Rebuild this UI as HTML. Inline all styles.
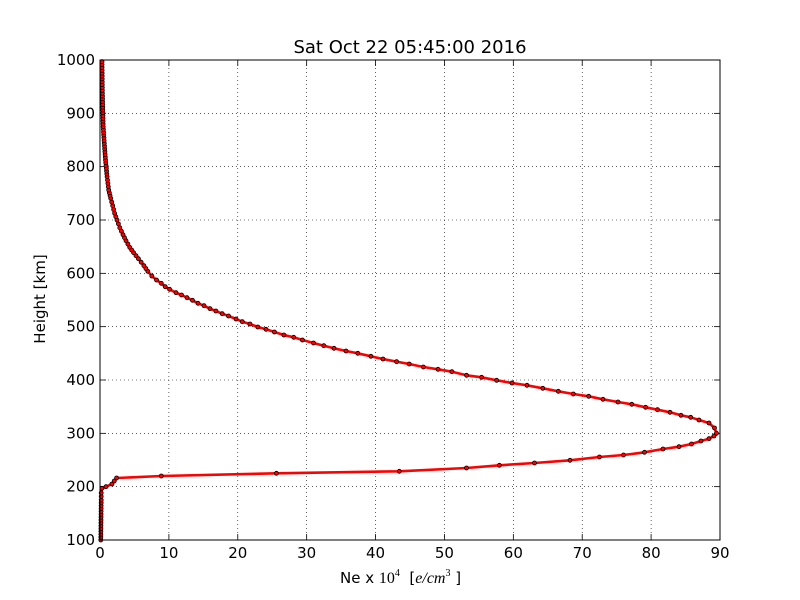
<!DOCTYPE html>
<html><head><meta charset="utf-8"><style>
html,body{margin:0;padding:0;background:#fff;}
svg{display:block;}
text{font-family:"DejaVu Sans","Liberation Sans",sans-serif;fill:#000;}
</style></head><body>
<svg id="s" width="800" height="600" xmlns="http://www.w3.org/2000/svg">
<rect width="800" height="600" fill="#fff"/>
<g id="grid" stroke="#000" stroke-width="0.6" stroke-dasharray="1,3"></g>
<g id="ticks" stroke="#000" stroke-width="0.8"></g>
<g id="labels" font-size="15"></g>
<polyline id="line" fill="none" stroke="#ff0000" stroke-width="2.6" stroke-linejoin="round"/>
<g id="dots" fill="#ff0000" stroke="#000" stroke-width="0.8"></g>
<rect x="100" y="60" width="620" height="480" fill="none" stroke="#000" stroke-width="1"/>
<text x="410" y="53" font-size="18" text-anchor="middle">Sat Oct 22 05:45:00 2016</text>
<text x="45" y="299" font-size="15" text-anchor="middle" transform="rotate(-90 45 299)">Height [km]</text>
<text x="340" y="583" font-size="15">Ne x <tspan font-family="Liberation Serif,serif" font-size="16">10</tspan><tspan font-family="Liberation Serif,serif" font-size="10" dy="-7">4</tspan><tspan dy="7" xml:space="preserve">  [</tspan><tspan font-family="Liberation Serif,serif" font-style="italic" font-size="16">e/cm</tspan><tspan font-family="Liberation Serif,serif" font-size="10" dy="-7">3</tspan><tspan dy="7" xml:space="preserve"> ]</tspan></text>
</svg>
<script>
var ns="http://www.w3.org/2000/svg";
function el(p,t,a,txt){var e=document.createElementNS(ns,t);for(var k in a)e.setAttribute(k,a[k]);if(txt!=null)e.textContent=txt;document.getElementById(p).appendChild(e);}
for(var i=0;i<=9;i++){var x=100+i*620/9;
 if(i>0&&i<9)el("grid","line",{x1:x,y1:60,x2:x,y2:540});
 el("ticks","line",{x1:x,y1:540,x2:x,y2:534});el("ticks","line",{x1:x,y1:60,x2:x,y2:66});
 el("labels","text",{x:x,y:558,"text-anchor":"middle"},String(i*10));}
for(var j=0;j<=9;j++){var y=540-j*480/9;
 if(j>0&&j<9)el("grid","line",{x1:100,y1:y,x2:720,y2:y});
 el("ticks","line",{x1:100,y1:y,x2:106,y2:y});el("ticks","line",{x1:720,y1:y,x2:714,y2:y});
 el("labels","text",{x:95,y:y+5,"text-anchor":"end"},String(100+j*100));}
var P=[[100.8,540],[101,520],[101.2,500],[101.2,493],[102,488.3],[106,486.7],[111.9,484],[116.6,478],[161.3,476],[276.4,473.3],[399.3,471.3],[466.5,468],[499.4,465.3],[534.5,463],[570,460.3],[599.4,457],[623.5,455],[644.5,452.3],[663,449],[679,446.7],[691.5,444],[701,441],[709,438.7],[714,436],[716.5,433.3],[714.5,428],[709,423],[699,420],[690.7,417.3],[681,415.3],[670,412.3],[657.5,409.7],[645.6,407.3],[631.8,404.3],[618,402],[603,399.3],[588.7,396.3],[573.3,394],[558.3,391.3],[542.8,388.3],[527,385.3],[512,383],[496.6,380.3],[481.6,377.3],[466.5,375.3],[451.9,371.7],[438,369.3],[423.4,367],[409.2,364],[396.6,361.7],[383,359],[370.9,356.3],[357.8,353.3],[346,351],[334,348.3],[323.8,345.7],[313.5,343],[302.4,340],[293.7,337.3],[283.9,335],[274.4,332],[266,329.3],[257.8,327],[249.9,324],[242.3,321.7],[236,319],[228.5,316],[222.2,313.7],[215.9,311],[210,308.7],[204,305.7],[198,303.3],[192.5,300.3],[187,297.7],[181.5,295],[176,292.7],[169.6,289.3],[165.2,286.7],[161.3,283.3],[156.5,280],[151.8,276],[147.8,271.3],[143.9,265.7],[138.4,258.7],[133.6,252.7],[129.7,247.3],[126,240.7],[123,234.7],[119.8,227.7],[117,220],[114.6,213.3],[112.7,205.7],[110.7,198.3],[108.7,190],[107.1,176.7],[105.5,160],[104.3,143.3],[103.2,126.7],[102.4,93.3],[102,61.7]];
document.getElementById("line").setAttribute("points",P.map(function(p){return p.join(",")}).join(" "));
function dot(x,y){el("dots","circle",{cx:x,cy:y,r:2});}
for(var k=0;k<P.length;k++){dot(P[k][0],P[k][1]);
 if(k+1<P.length){var dy=Math.abs(P[k+1][1]-P[k][1]);var n=Math.floor(dy/2.67);
  for(var m=1;m<n;m++){var t=m/n;dot(P[k][0]+(P[k+1][0]-P[k][0])*t,P[k][1]+(P[k+1][1]-P[k][1])*t);}}}
</script>
</body></html>
